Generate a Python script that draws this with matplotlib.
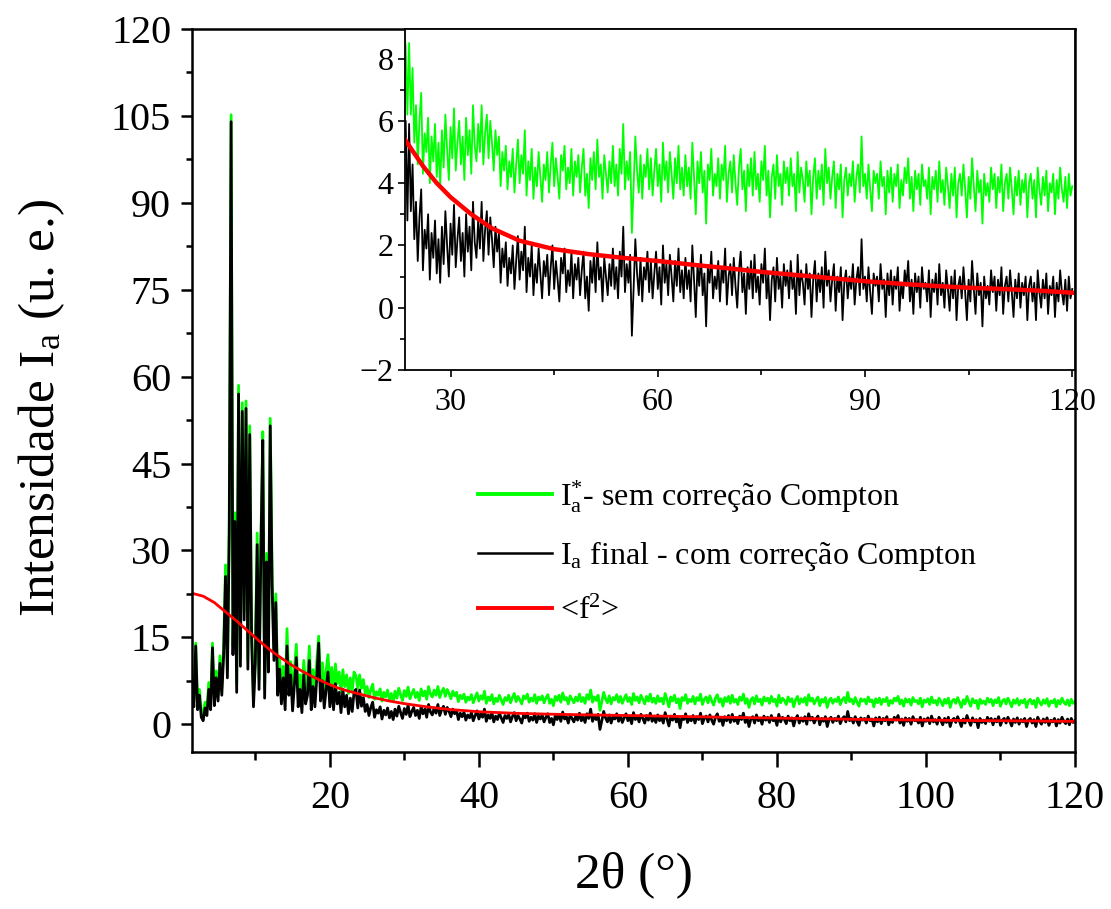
"""
Intensidade I_a vs 2theta: sem / com correcao Compton e <f^2>, com inset.
"""
import numpy as np
import matplotlib
matplotlib.use("Agg")
import matplotlib.pyplot as plt
from matplotlib.ticker import MultipleLocator

plt.rcParams["font.family"] = ["Liberation Serif", "DejaVu Serif"]
plt.rcParams["mathtext.fontset"] = "custom"
plt.rcParams["mathtext.rm"] = "Liberation Serif"
plt.rcParams["mathtext.it"] = "Liberation Serif:italic"
plt.rcParams["mathtext.bf"] = "Liberation Serif:bold"

# --- dados --------------------------------------------------------------------
# grade em 2theta, passo 0.25
x_lo = np.arange(1.5, 24.0, 0.25)      # 1.5 ... 23.75  (90 pontos)
x_hi = np.arange(24.0, 120.01, 0.25)   # 24 ... 120     (385 pontos)

# I_a final - com correcao Compton (preto)
com_lo = [
    7.5, 3.0, 13.5, 2.5, 5.0, 1.2, 0.6, 2.8, 1.5, 6.0,
    2.5, 13.2, 3.2, 8.0, 4.0, 10.5, 5.0, 12.0, 25.5, 8.0,
    33.0, 104.0, 12.0, 35.0, 5.5, 57.0, 10.0, 54.0, 18.0, 54.5,
    9.5, 50.0, 15.0, 3.0, 10.5, 31.0, 6.0, 30.5, 49.0, 4.5,
    28.0, 9.0, 51.5, 24.0, 11.0, 21.0, 5.0, 9.5, 3.5, 8.0,
    2.5, 13.5, 5.0, 8.5, 2.3, 7.0, 11.5, 3.0, 6.0, 2.0,
    8.5, 3.5, 5.0, 11.0, 2.5, 6.5, 3.0, 8.0, 14.0, 4.0,
    7.5, 2.8, 6.0, 9.0, 3.0, 6.5, 2.5, 7.0, 3.5, 5.5,
    2.0, 6.0, 3.0, 5.0, 1.8, 4.5, 2.2, 5.5, 6.0, 2.8,
]
com_hi = [
    5.9, 3.1, 4.6, 2.2, 3.4, 1.5, 2.9, 3.8, 1.2, 2.5, 1.9, 3.0, 0.9, 2.4, 1.6, 2.8, 1.1, 2.2, 0.8, 2.6,
    1.4, 3.1, 2.0, 1.0, 2.7, 1.7, 3.3, 1.3, 2.2, 2.9, 1.5, 2.4, 1.0, 3.0, 1.8, 2.6, 1.2, 3.4, 2.1, 1.6,
    2.8, 1.9, 3.4, 1.5, 2.5, 3.1, 1.7, 2.9, 2.2, 1.3, 2.6, 1.8, 2.4, 0.8, 1.9, 1.3, 2.1, 0.7, 1.6, 1.1,
    2.0, 0.6, 1.5, 2.3, 0.9, 1.8, 1.2, 2.6, 0.5, 1.6, 1.0, 2.0, 0.4, 1.4, 0.8, 1.9, 1.1, 0.3, 1.5, 1.0,
    1.7, 0.4, 1.3, 2.0, 0.6, 1.5, 0.9, 0.2, 1.6, 1.1, 1.9, 0.5, 1.2, 0.7, 1.8, 0.3, 1.4, 0.9, 1.6, 0.4,
    1.2, 1.8, 0.3, 1.0, -0.1, 1.5, 0.8, 1.7, 0.5, 2.1, 0.9, 1.3, 0.2, 1.6, 1.0, 0.4, 1.4, 0.7, 1.9, 0.6,
    1.3, 0.3, 1.8, 1.0, 2.6, 0.5, 1.4, 0.8, 1.7, -0.9, 0.6, 2.2, 1.1, 0.4, 1.6, 0.2, 1.3, 0.9, 1.8, 0.5,
    1.5, 0.3, 1.1, 1.8, 0.6, 1.3, 0.1, 2.0, 0.8, 1.4, 0.4, 1.7, 1.0, 0.2, 1.5, 0.7, 1.9, 0.5, 1.2, 0.3,
    1.6, 0.6, 1.2, 0.2, 2.0, 0.9, -0.3, 1.4, 0.7, 1.7, 0.4, 1.1, -0.6, 1.3, 0.8, 1.8, 0.3, 1.0, 0.6, 1.5,
    0.2, 1.3, 0.8, 1.9, 0.1, 1.0, 1.4, 0.4, 1.6, 0.7, 0.0, 1.2, 1.8, 0.5, 1.1, -0.2, 1.3, 0.6, 1.5, 0.3,
    1.7, 0.5, 1.0, 0.1, 1.4, 0.8, 1.9, 0.3, 1.1, -0.4, 0.9, 1.3, 0.2, 1.6, 0.6, 1.0, 0.0, 1.4, 0.7, 1.2,
    0.3, 1.5, 0.6, 1.0, -0.2, 1.7, 0.4, 1.2, 0.8, 0.1, 1.4, 0.6, 1.1, -0.3, 0.9, 1.5, 0.2, 1.1, 0.5, 1.3,
    0.0, 1.8, 0.7, 1.2, 0.2, 0.9, 1.4, -0.1, 1.0, 0.5, 1.3, -0.4, 0.8, 1.2, 0.3, 1.0, 0.6, 1.4, 0.1, 0.9,
    1.3, 0.4, 2.2, 0.6, 1.0, 0.2, 1.3, 0.5, -0.2, 1.1, 0.7, 1.0, 0.2, 1.4, 0.6, 0.9, -0.3, 1.1, 0.4, 1.2,
    0.1, 1.0, 0.6, 1.3, -0.1, 0.8, 0.3, 1.2, 0.7, 1.5, 0.2, 0.9, -0.2, 1.1, 0.5, 1.0, 0.0, 1.3, 0.6, 0.8,
    0.2, 1.2, -0.3, 0.9, 0.5, 1.1, 0.1, 1.4, 0.4, 0.8, 0.0, 1.2, 0.6, -0.1, 1.0, 0.3, 1.2, -0.4, 0.7, 1.0,
    0.3, 1.3, 0.5, -0.4, 0.9, 0.2, 1.5, 0.6, -0.2, 1.1, 0.4, 0.8, -0.6, 1.0, 0.3, 0.7, 0.1, 1.2, 0.5, 1.0,
    -0.1, 0.9, 0.4, 1.3, -0.2, 0.7, 1.0, 0.2, 1.2, 0.5, -0.3, 0.9, 0.3, 1.1, 0.0, 0.8, 0.4, 1.0, -0.4, 0.7,
    1.0, 0.2, 0.8, -0.4, 1.2, 0.5, 0.0, 0.9, 0.3, 1.1, -0.2, 0.7, 0.4, 1.0, -0.3, 0.8, 0.2, 1.2, 0.5, 0.1,
    0.9, -0.1, 1.0, 0.3, 0.6,
]

# I*_a - sem correcao Compton (verde)
sem_lo = [
    8.5, 4.0, 14.0, 3.5, 6.0, 2.2, 1.5, 3.8, 2.6, 7.2,
    3.6, 14.0, 4.4, 9.2, 5.2, 11.8, 6.3, 13.5, 27.5, 9.5,
    35.0, 105.2, 13.5, 36.5, 7.0, 58.5, 11.5, 55.5, 19.5, 55.8,
    11.0, 51.5, 16.5, 4.5, 12.0, 33.0, 7.6, 32.0, 50.5, 6.2,
    29.5, 10.6, 52.8, 26.0, 13.0, 22.5, 7.0, 11.5, 5.5, 10.0,
    4.6, 16.5, 7.2, 10.8, 4.6, 9.4, 13.8, 5.5, 8.5, 4.6,
    11.0, 6.2, 7.8, 13.5, 5.4, 9.4, 6.0, 11.0, 15.2, 7.2,
    10.6, 6.0, 9.2, 12.0, 6.4, 9.8, 5.9, 10.4, 7.0, 9.0,
    5.5, 9.4, 6.5, 8.5, 5.3, 8.0, 5.7, 9.0, 8.4, 6.2,
]
sem_hi = [
    8.5, 6.2, 7.7, 5.3, 6.5, 4.6, 6.0, 6.9, 4.3, 5.6, 5.0, 6.1, 4.0, 5.5, 4.7, 5.9, 4.2, 5.3, 3.9, 5.7,
    4.5, 6.2, 5.1, 4.1, 5.8, 4.8, 6.4, 4.4, 5.3, 6.0, 4.6, 5.5, 4.1, 6.1, 4.9, 5.7, 4.3, 6.5, 5.2, 4.7,
    5.9, 5.0, 6.5, 4.6, 5.6, 6.2, 4.8, 6.0, 5.3, 4.4, 5.7, 4.9, 5.5, 3.9, 5.0, 4.4, 5.2, 3.8, 4.7, 4.2,
    5.1, 3.7, 4.6, 5.4, 4.0, 4.9, 4.3, 5.7, 3.6, 4.7, 4.1, 5.1, 3.5, 4.5, 3.9, 5.0, 4.2, 3.4, 4.6, 4.1,
    5.0, 3.7, 4.6, 5.3, 3.9, 4.8, 4.2, 3.5, 4.9, 4.4, 5.2, 3.8, 4.5, 4.0, 5.1, 3.6, 4.7, 4.2, 4.9, 3.7,
    4.5, 5.1, 3.6, 4.3, 3.2, 4.8, 4.1, 5.0, 3.8, 5.4, 4.2, 4.6, 3.5, 4.9, 4.3, 3.7, 4.7, 4.0, 5.2, 3.9,
    4.6, 3.6, 5.1, 4.3, 5.9, 3.8, 4.7, 4.1, 5.0, 2.4, 3.9, 5.5, 4.4, 3.7, 4.9, 3.5, 4.6, 4.2, 5.1, 3.8,
    4.8, 3.6, 4.4, 5.1, 3.9, 4.6, 3.4, 5.3, 4.1, 4.7, 3.7, 5.0, 4.3, 3.5, 4.8, 4.0, 5.2, 3.8, 4.5, 3.6,
    4.9, 3.9, 4.5, 3.5, 5.3, 4.2, 3.0, 4.7, 4.0, 5.0, 3.7, 4.4, 2.7, 4.6, 4.1, 5.1, 3.6, 4.3, 3.9, 4.8,
    3.5, 4.6, 4.1, 5.2, 3.4, 4.3, 4.7, 3.7, 4.9, 4.0, 3.3, 4.5, 5.1, 3.8, 4.4, 3.1, 4.6, 3.9, 4.8, 3.6,
    5.0, 3.8, 4.3, 3.4, 4.7, 4.1, 5.2, 3.6, 4.4, 2.9, 4.2, 4.6, 3.5, 4.9, 3.9, 4.3, 3.3, 4.7, 4.0, 4.5,
    3.6, 4.8, 3.9, 4.3, 3.1, 5.0, 3.7, 4.5, 4.1, 3.4, 4.7, 3.9, 4.4, 3.0, 4.2, 4.8, 3.5, 4.4, 3.8, 4.6,
    3.3, 5.1, 4.0, 4.5, 3.5, 4.2, 4.7, 3.2, 4.3, 3.8, 4.6, 2.9, 4.1, 4.5, 3.6, 4.3, 3.9, 4.7, 3.4, 4.2,
    4.6, 3.7, 5.5, 3.9, 4.3, 3.5, 4.6, 3.8, 3.1, 4.4, 4.0, 4.3, 3.5, 4.7, 3.9, 4.2, 3.0, 4.4, 3.7, 4.5,
    3.4, 4.3, 3.9, 4.6, 3.2, 4.1, 3.6, 4.5, 4.0, 4.8, 3.5, 4.2, 3.1, 4.4, 3.8, 4.3, 3.3, 4.6, 3.9, 4.1,
    3.5, 4.5, 3.0, 4.2, 3.8, 4.4, 3.4, 4.7, 3.7, 4.1, 3.3, 4.5, 3.9, 3.2, 4.3, 3.6, 4.5, 2.9, 4.0, 4.3,
    3.6, 4.6, 3.8, 2.9, 4.2, 3.5, 4.8, 3.9, 3.1, 4.4, 3.7, 4.1, 2.7, 4.3, 3.6, 4.0, 3.4, 4.5, 3.8, 4.3,
    3.2, 4.2, 3.7, 4.6, 3.1, 4.0, 4.3, 3.5, 4.5, 3.8, 3.0, 4.2, 3.6, 4.4, 3.3, 4.1, 3.7, 4.3, 2.9, 4.0,
    4.3, 3.5, 4.1, 2.9, 4.5, 3.8, 3.3, 4.2, 3.6, 4.4, 3.1, 4.0, 3.7, 4.3, 3.0, 4.1, 3.5, 4.5, 3.8, 3.4,
    4.2, 3.2, 4.3, 3.6, 3.9,
]

# <f^2> (vermelho)
f2_x = [1.5, 3, 4.5, 6, 7.5, 9, 10.5, 12, 13.5, 15, 16.5, 18, 19.5, 21, 22.5,
        24, 26, 28, 30, 33, 36, 40, 45, 50, 55, 60, 65, 70, 75, 80, 85, 90,
        95, 100, 105, 110, 115, 120]
f2_y = [22.6, 22.1, 21.0, 19.4, 17.8, 16.1, 14.4, 12.8, 11.4, 10.1, 9.0, 8.0,
        7.1, 6.3, 5.7, 5.2, 4.55, 4.0, 3.55, 3.0, 2.55, 2.15, 1.88, 1.72, 1.6,
        1.5, 1.38, 1.27, 1.15, 1.05, 0.95, 0.85, 0.77, 0.7, 0.64, 0.6, 0.55,
        0.48]

two_theta = np.concatenate([x_lo, x_hi])
ia_sem = np.array(sem_lo + sem_hi)
ia_com = np.array(com_lo + com_hi)

VERDE = "#00ff00"
VERMELHO = "#ff0000"

lbl_sem = r"$\mathrm{I}^{*}_{\mathrm{a}}$- sem correção Compton"
lbl_com = r"$\mathrm{I}_{\mathrm{a}}$ final - com correção Compton"
lbl_f2 = r"<$\mathrm{f}^{2}$>"

fig = plt.figure(figsize=(11.11, 9.09), dpi=100)

# --- grafico principal --------------------------------------------------------
ax = fig.add_axes([0.1728, 0.1727, 0.7948, 0.7954])
ax.plot(two_theta, ia_sem, color=VERDE, lw=2.0, label=lbl_sem)
ax.plot(two_theta, ia_com, color="black", lw=2.0, label=lbl_com)
ax.plot(f2_x, f2_y, color=VERMELHO, lw=2.0, label=lbl_f2)
ax.set_xlim(1.5, 120)
ax.set_ylim(-4.8, 120)
ax.xaxis.set_major_locator(MultipleLocator(20))
ax.xaxis.set_minor_locator(MultipleLocator(10))
ax.yaxis.set_major_locator(MultipleLocator(15))
ax.yaxis.set_minor_locator(MultipleLocator(7.5))
ax.tick_params(which="both", direction="out", top=False, right=False,
               width=1.8, labelsize=29)
ax.tick_params(axis="x", which="major", length=10.8, pad=9)
ax.tick_params(axis="x", which="minor", length=5.8)
ax.tick_params(axis="y", which="major", length=8, pad=7)
ax.tick_params(axis="y", which="minor", length=4.3)
for s in ax.spines.values():
    s.set_linewidth(1.8)

ax.set_xlabel("2θ (°)", fontsize=37)
ax.xaxis.set_label_coords(0.5, -0.137)
ax.set_ylabel(r"Intensidade I$_{\mathrm{a}}$ (u. e.)", fontsize=37)
ax.yaxis.set_label_coords(-0.142, 0.476)

leg = ax.legend(loc="center left", bbox_to_anchor=(0.324, 0.2766),
                frameon=False, fontsize=23, handlelength=2.3,
                handletextpad=0.25, labelspacing=0.75, borderpad=0,
                borderaxespad=0)
for ln, w in zip(leg.get_lines(), [2.8, 1.8, 2.8]):
    ln.set_linewidth(w)

# --- inset ----------------------------------------------------------------------
axi = fig.add_axes([0.3645, 0.5930, 0.6031, 0.3751])
axi.plot(two_theta, ia_sem, color=VERDE, lw=1.3)
axi.plot(two_theta, ia_com, color="black", lw=1.3)
axi.plot(f2_x, f2_y, color=VERMELHO, lw=3.2)
axi.set_xlim(23.4, 120.4)
axi.set_ylim(-2, 8.95)
axi.xaxis.set_major_locator(MultipleLocator(30))
axi.xaxis.set_minor_locator(MultipleLocator(15))
axi.yaxis.set_major_locator(MultipleLocator(2))
axi.yaxis.set_minor_locator(MultipleLocator(1))
axi.tick_params(which="both", direction="out", top=False, right=False,
                width=1.2, labelsize=23)
axi.tick_params(which="major", length=5, pad=3)
axi.tick_params(which="minor", length=3.5)
axi.tick_params(axis="x", which="major", pad=8)
for s in axi.spines.values():
    s.set_linewidth(1.3)

fig.savefig("out.png", dpi=100)
